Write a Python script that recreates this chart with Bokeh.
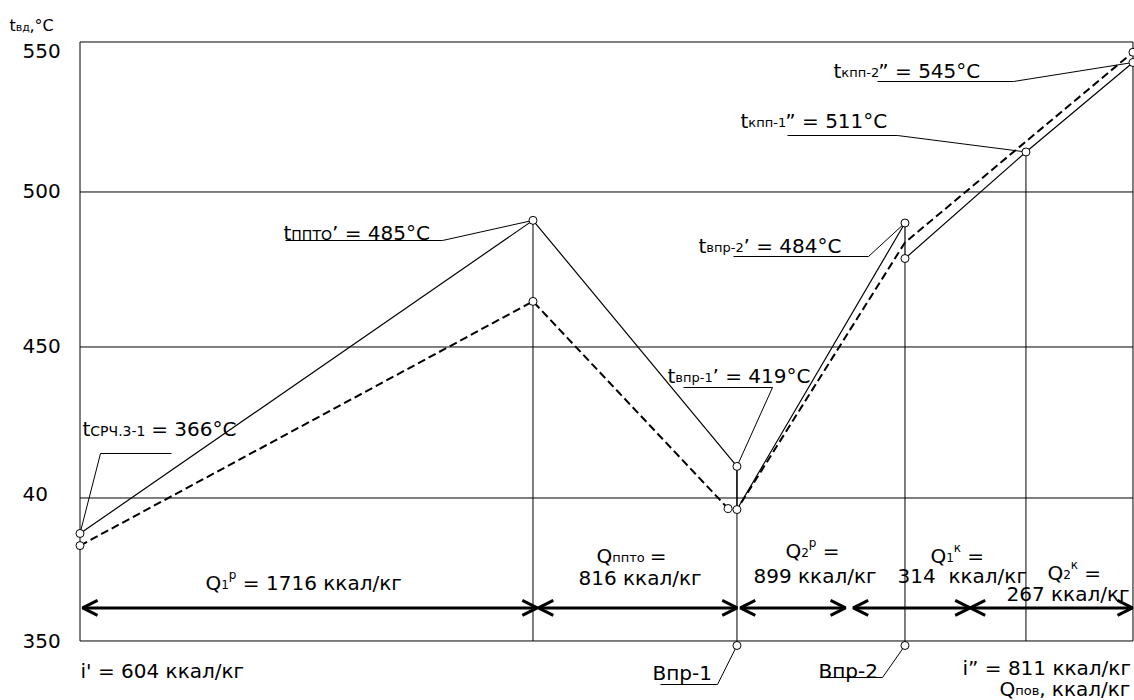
from bokeh.plotting import figure
from bokeh.models import Range1d, ColumnDataSource, Arrow, OpenHead
from bokeh.core.properties import value
from bokeh.embed import file_html
from bokeh.resources import INLINE

# ---------------- data ----------------
# steam enthalpy at the section boundaries, ккал/кг
i_in, i_out = 604, 811
i_ppto = 693.05      # screen stage outlet / ППТО inlet
i_vpr1 = 733.15      # desuperheater 1
i_vpr2 = 766.18      # desuperheater 2
i_kpp1 = 789.96      # КПП-1 outlet

# steam temperature along the path, °C (solid: design, dashed: second mode)
solid_i = [i_in, i_ppto, i_vpr1, i_vpr1, i_vpr2, i_vpr2, i_kpp1, i_out]
solid_t = [366, 485, 391.5, 375.1, 484, 470.5, 511, 545]
dash_i = [i_in, i_ppto, 731.4, i_vpr1, i_vpr2, i_out]
dash_t = [361.4, 454.2, 375.5, 375.1, 476.6, 548.9]

# heat absorbed by each surface, ккал/кг, and the span of its arrow
q_values = [1716, 816, 899, 314, 267]
q_from = [604.5, 694.1, 733.8, 756.0, 779.0]
q_to = [693.9, 733.2, 754.5, 779.0, 810.9]

# temperature axis
y_tick_text = ["550", "500", "450", "40", "350"]
y_tick_t = [549.2, 496.0, 437.1, 381.0, 325.3]
grid_t = [495.79, 436.88, 379.49]
box_lo, box_hi = 325.15, 552.79

# ---------------- figure ----------------
W, H = 1134, 700
XR = Range1d(588.37, 811.30)
YR = Range1d(302.53, 568.56)

p = figure(width=W, height=H, x_range=XR, y_range=YR,
           x_axis_type=None, y_axis_type=None,
           toolbar_location=None, output_backend="svg", min_border=0)
p.outline_line_color = None
p.grid.visible = False
p.background_fill_color = "white"
p.border_fill_color = "white"
# canvas pixel space for the annotations (y grows downward)
p.extra_x_ranges = {"px": Range1d(0, W)}
p.extra_y_ranges = {"px": Range1d(H, 0)}


def to_px(i, t):
    return ((i - XR.start) / (XR.end - XR.start) * W,
            (YR.end - t) / (YR.end - YR.start) * H)


INK = "#000000"

# frame and temperature grid
p.quad(left=i_in, right=i_out, bottom=box_lo, top=box_hi,
       fill_color=None, line_color=INK, line_width=1)
p.segment(x0=[i_in] * 3, x1=[i_out] * 3, y0=grid_t, y1=grid_t,
          line_color=INK, line_width=1)

# boundaries of the surfaces
bottom_t = 323.44
p.segment(x0=[i_ppto, i_vpr1, i_vpr2, i_kpp1],
          x1=[i_ppto, i_vpr1, i_vpr2, i_kpp1],
          y0=[solid_t[1], solid_t[2], solid_t[5], solid_t[6]],
          y1=[box_lo, bottom_t, bottom_t, box_lo],
          line_color=INK, line_width=1)

# temperature profiles
p.line(solid_i, solid_t, line_color=INK, line_width=1.2)
p.line(dash_i, dash_t, line_color=INK, line_width=2, line_dash="8 4")

# leader lines: from a marked point to the underline of its caption
leaders = [
    ((solid_i[0], solid_t[0]), [(100, 453), (171, 453)]),
    ((solid_i[1], solid_t[1]), [(442, 240), (285, 240)]),
    ((solid_i[2], solid_t[2]), [(772, 387), (683, 387)]),
    ((solid_i[4], solid_t[4]), [(868, 256), (733, 256)]),
    ((solid_i[6], solid_t[6]), [(897, 135), (787, 135)]),
    ((solid_i[7], solid_t[7]), [(1013, 81), (877, 81)]),
    ((i_vpr1, bottom_t), [(717, 684), (660, 684)]),
    ((i_vpr2, bottom_t), [(882, 677), (820, 677)]),
]
lx, ly = [], []
for anchor, rest in leaders:
    ax, ay = to_px(*anchor)
    lx.append([ax] + [r[0] for r in rest])
    ly.append([ay] + [r[1] for r in rest])
p.multi_line(lx, ly, line_color=INK, line_width=1,
             x_range_name="px", y_range_name="px")

# heat-absorption arrows
arrow_t = 337.7
for a, b in zip(q_from, q_to):
    p.add_layout(Arrow(start=OpenHead(size=15, line_width=3, line_color=INK),
                       end=OpenHead(size=15, line_width=3, line_color=INK),
                       x_start=a, y_start=arrow_t, x_end=b, y_end=arrow_t,
                       line_width=3, line_color=INK))

# node markers
mk_i = solid_i + [dash_i[0], dash_i[1], dash_i[2], dash_i[5], i_vpr1, i_vpr2]
mk_t = solid_t + [dash_t[0], dash_t[1], dash_t[2], dash_t[5], bottom_t, bottom_t]
p.scatter(mk_i, mk_t, marker="circle", size=8, fill_color="white",
          line_color=INK, line_width=1)

# ---------------- texts ----------------
FONT = "DejaVu Sans"
EM = {" ": .318, "\u00a0": .318, "'": .275, ",": .318, "-": .361, ".": .318,
      "/": .337, "=": .838, "°": .5, "’": .318, "”": .511, "C": .698,
      "Q": .787, "i": .278, "t": .392, "В": .686, "С": .698, "Р": .603,
      "Ч": .640, "П": .752, "Т": .611, "О": .787, "а": .613, "в": .592,
      "г": .495, "д": .646, "к": .579, "л": .626, "о": .612, "п": .634,
      "р": .635, "т": .526}


def width(s, size):
    return sum(EM.get(ch, .636) for ch in s) * size


rows = {"x": [], "y": [], "text": [], "size": []}


def rich(x, y, parts, big=20, small=14, align="left"):
    """Lay out a caption made of normal, subscript (_) and superscript (^) runs."""
    runs = []
    for s, kind in parts:
        size = big if kind == "" else small
        dy = {"": 0, "_": 2, "^": -8}[kind]
        runs.append((s, size, dy))
    if align == "center":
        x -= sum(width(s, sz) for s, sz, _ in runs) / 2
    for s, size, dy in runs:
        # svg drops leading blanks and folds repeated ones: advance by hand
        body = s.lstrip(" ")
        x += width(s[:len(s) - len(body)], size)
        body = body.replace("  ", " \u00a0")
        rows["x"].append(x)
        rows["y"].append(y + dy)
        rows["text"].append(body)
        rows["size"].append(f"{size}px")
        x += width(body, size)


rich(9, 25, [("t", ""), ("вд", "_"), (",°C", "")], big=16, small=11)

rich(82, 428, [("t", ""), ("СРЧ.3-1", "_"), (" = 366°C", "")])
rich(283, 232, [("t", ""), ("ППТО", "_"), ("’ = 485°C", "")])
rich(667, 375, [("t", ""), ("впр-1", "_"), ("’ = 419°C", "")], small=13)
rich(698, 245, [("t", ""), ("впр-2", "_"), ("’ = 484°C", "")], small=13)
rich(740, 120, [("t", ""), ("кпп-1", "_"), ("” = 511°C", "")], small=13)
rich(833, 70, [("t", ""), ("кпп-2", "_"), ("” = 545°C", "")], small=13)

rich(205, 582, [("Q", ""), ("1", "_"), ("р", "^"), (f" = {q_values[0]} ккал/кг", "")], small=12)
rich(631, 555, [("Q", ""), ("ппто", "_"), (" =", "")], small=13, align="center")
rich(578, 577, [(f"{q_values[1]} ккал/кг", "")])
rich(785, 550, [("Q", ""), ("2", "_"), ("р", "^"), (" =", "")], small=12)
rich(753, 575, [(f"{q_values[2]} ккал/кг", "")])
rich(930, 555, [("Q", ""), ("1", "_"), ("к", "^"), (" =", "")], small=12)
rich(897, 575, [(f"{q_values[3]}  ккал/кг", "")])
rich(1047, 572, [("Q", ""), ("2", "_"), ("к", "^"), (" =", "")], small=12)
rich(1006, 593, [(f"{q_values[4]} ккал/кг", "")])

rich(80, 670, [(f"i' = {i_in} ккал/кг", "")])
rich(962, 667, [(f"i” = {i_out} ккал/кг", "")])
rich(999, 688, [("Q", ""), ("пов", "_"), (", ккал/кг", "")], small=13)
rich(652, 672, [("Впр-1", "")])
rich(818, 670, [("Впр-2", "")])

p.text(x="x", y="y", text="text", source=ColumnDataSource(rows),
       text_font=value(FONT), text_font_size="size", text_color=INK,
       text_baseline="alphabetic", text_align="left",
       x_range_name="px", y_range_name="px")

# temperature tick labels
p.text(x=[22] * len(y_tick_text), y=y_tick_t, text=y_tick_text,
       text_font=value(FONT), text_font_size=value("20px"), text_color=INK,
       text_baseline="middle", text_align="left", x_range_name="px")

open("out.html", "w").write(file_html(p, INLINE))
